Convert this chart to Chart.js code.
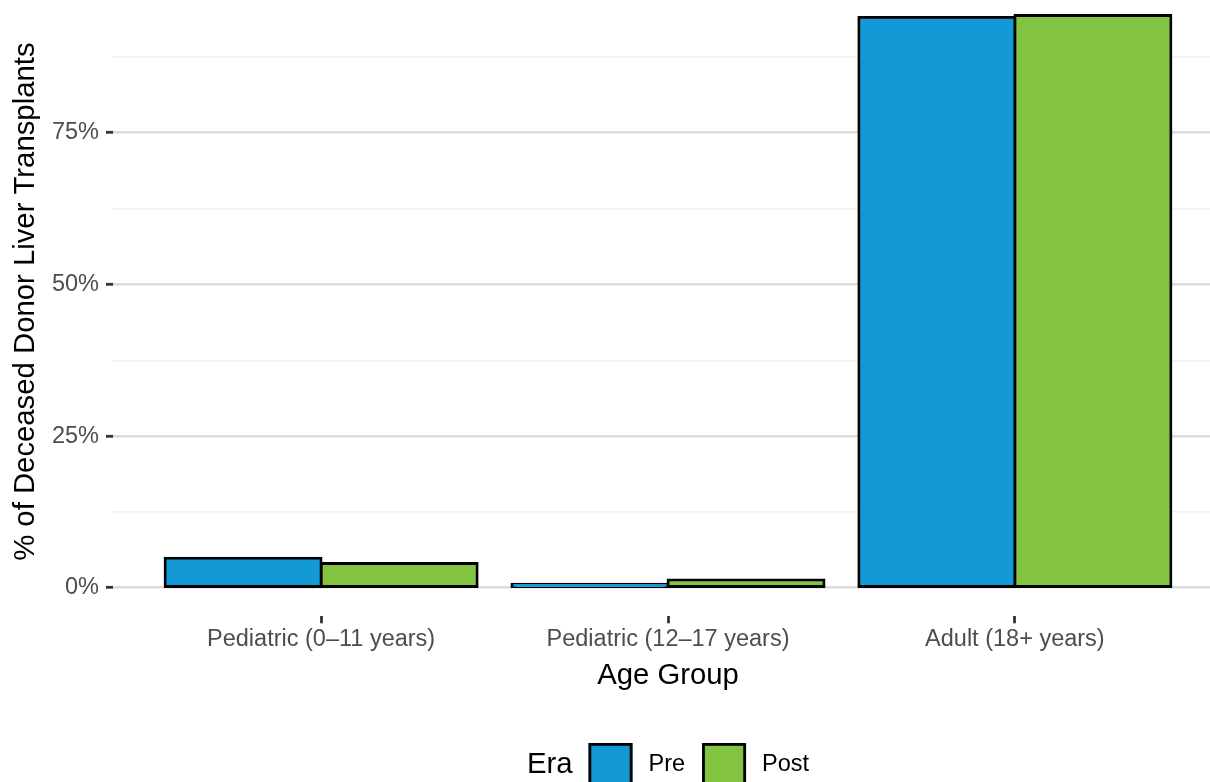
<!DOCTYPE html>
<html><head><meta charset="utf-8">
<script src="https://cdn.jsdelivr.net/npm/chart.js@4.4.1/dist/chart.umd.min.js"></script>
<style>
html,body{margin:0;padding:0;background:#fff;overflow:hidden;}
#wrap{position:relative;width:1210px;height:782px;overflow:hidden;background:#fff;}
#c{position:absolute;left:0;top:-40px;}
</style></head><body>
<div id="wrap"><canvas id="c" width="1223" height="822"></canvas></div>
<script>
// ---- data ----
const categories = ["Pediatric (0–11 years)", "Pediatric (12–17 years)", "Adult (18+ years)"];
const seriesNames = ["Pre", "Post"];
const preValues = [4.9, 0.6, 94.0];
const postValues = [4.0, 1.3, 94.3];
const yTickValues = [0, 12.5, 25, 37.5, 50, 62.5, 75, 87.5];
const yMajorTicks = [0, 25, 50, 75];
const legendTitle = "Era";
const xTitle = "Age Group";
const yTitle = "% of Deceased Donor Liver Transplants";

// ---- styles ----
const colors = ["#1399D6", "#82C342"];
const FONT = "'Liberation Sans', Arial, Helvetica, sans-serif";
const TICK_SIZE = 23.5, TITLE_SIZE = 29.3;
const LW = 2.8;

Chart.defaults.font.family = FONT;

const isMajor = v => yMajorTicks.includes(v);

const eraLegend = {
  id: 'eraLegend',
  afterDraw(chart) {
    const ctx = chart.ctx, ca = chart.chartArea;
    const tf = TITLE_SIZE + "px " + FONT, lf = TICK_SIZE + "px " + FONT;
    const ds = chart.data.datasets;
    ctx.save();
    ctx.font = tf; const wt = ctx.measureText(legendTitle).width;
    ctx.font = lf; const wl = ds.map(d => ctx.measureText(d.label).width);
    const key = 44, g1 = 16, g2 = 16, g3 = 17;
    let total = wt + g1 + wl.reduce((a, w) => a + key + g2 + w, 0) + g3 * (wl.length - 1);
    let x = (ca.left + ca.right) / 2 - total / 2;
    const cy = chart.height - 17;
    ctx.textBaseline = 'middle'; ctx.textAlign = 'left';
    ctx.fillStyle = '#000'; ctx.font = tf;
    ctx.fillText(legendTitle, x, cy);
    x += wt + g1;
    ds.forEach((d, i) => {
      ctx.fillStyle = d.backgroundColor;
      ctx.fillRect(x, cy - 22, key, key);
      ctx.lineWidth = LW; ctx.strokeStyle = '#000';
      ctx.strokeRect(x + LW / 2, cy - 22 + LW / 2, key - LW, key - LW);
      x += key + g2;
      ctx.fillStyle = '#000'; ctx.font = lf;
      ctx.fillText(d.label, x, cy);
      x += wl[i] + g3;
    });
    ctx.restore();
  }
};

const toPoints = vals => vals.map((v, i) => ({ x: i + 1, y: v }));

new Chart(document.getElementById('c'), {
  type: 'bar',
  data: {
    datasets: [
      { label: seriesNames[0], data: toPoints(preValues), backgroundColor: colors[0] },
      { label: seriesNames[1], data: toPoints(postValues), backgroundColor: colors[1] }
    ]
  },
  options: {
    responsive: false,
    animation: false,
    events: [],
    datasets: { bar: { borderColor: '#000', borderWidth: LW, borderSkipped: false, inflateAmount: LW / 2,
      categoryPercentage: 0.9, barPercentage: 1 } },
    layout: { padding: { top: 27, right: 0, bottom: 85.7, left: 0 } },
    plugins: { legend: { display: false }, tooltip: { enabled: false } },
    scales: {
      x: {
        type: 'linear', min: 0.4, max: 3.6, offset: false,
        afterBuildTicks: s => { s.ticks = categories.map((c, i) => ({ value: i + 1 })); },
        afterFit: s => { s.height = 80; },
        border: { display: false },
        grid: { display: true, offset: false, drawOnChartArea: false, drawTicks: true,
          tickLength: 7, tickColor: '#333333', tickWidth: LW },
        ticks: { autoSkip: false, maxRotation: 0, padding: 2, color: '#4D4D4D',
          font: { size: TICK_SIZE },
          callback: v => categories[Math.round(v) - 1] },
        title: { display: true, text: xTitle, color: '#000', font: { size: TITLE_SIZE },
          padding: { top: 0, bottom: 3 } }
      },
      y: {
        type: 'linear', min: -4.7, max: 99.0,
        afterBuildTicks: s => { s.ticks = yTickValues.map(v => ({ value: v })); },
        afterFit: s => { s.width = 113; },
        border: { display: false },
        grid: {
          drawTicks: true, tickLength: 7,
          color: c => isMajor(c.tick.value) ? '#DBDBDB' : '#F0F0F0',
          lineWidth: c => isMajor(c.tick.value) ? 2.6 : 1.4,
          tickColor: c => isMajor(c.tick.value) ? '#333333' : 'rgba(0,0,0,0)',
          tickWidth: LW
        },
        ticks: { autoSkip: false, padding: 7, color: '#4D4D4D', font: { size: TICK_SIZE },
          callback: v => isMajor(v) ? v + '%' : '' },
        title: { display: true, text: yTitle, color: '#000', font: { size: TITLE_SIZE },
          padding: { top: 8, bottom: 0 } }
      }
    }
  },
  plugins: [eraLegend]
});
</script>
</body></html>
